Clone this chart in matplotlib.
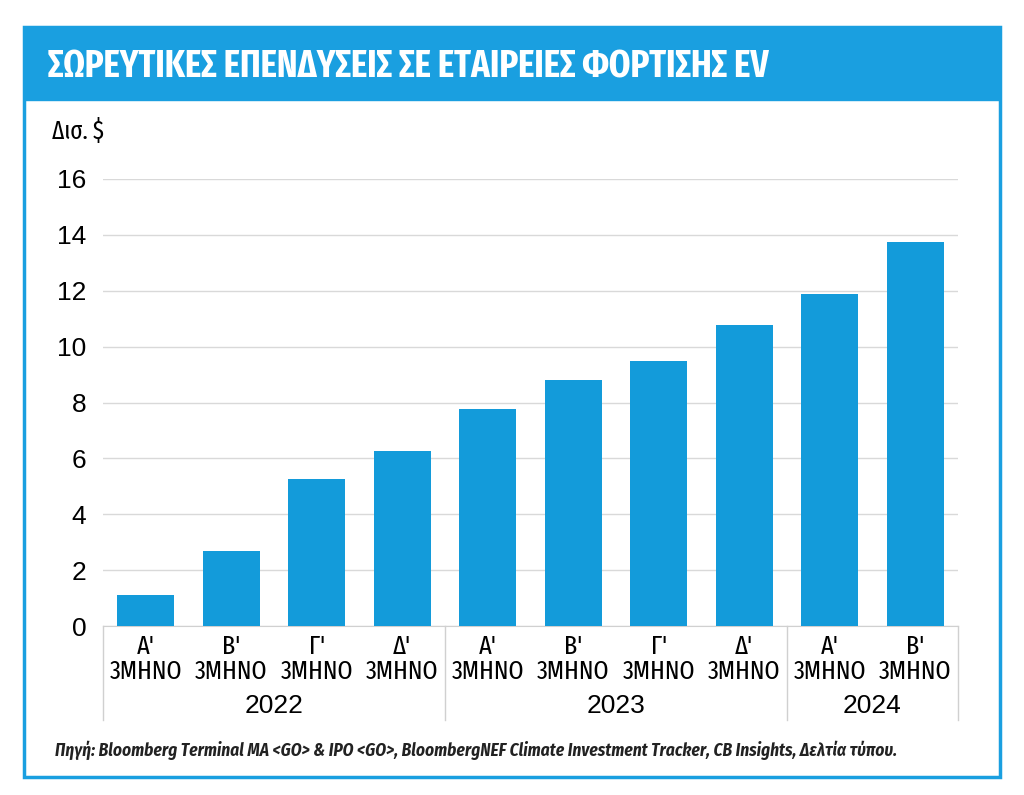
import matplotlib
matplotlib.use("Agg")
import matplotlib.pyplot as plt
import matplotlib.patches as patches
import matplotlib.transforms as mtransforms
import numpy as np

# data
quarters = ["Α'", "Β'", "Γ'", "Δ'", "Α'", "Β'", "Γ'", "Δ'", "Α'", "Β'"]
values = [1.12, 2.68, 5.26, 6.28, 7.76, 8.80, 9.50, 10.78, 11.88, 13.74]
years = ["2022", "2023", "2024"]
year_counts = [4, 4, 2]

title = "ΣΩΡΕΥΤΙΚΕΣ ΕΠΕΝΔΥΣΕΙΣ ΣΕ ΕΤΑΙΡΕΙΕΣ ΦΟΡΤΙΣΗΣ EV"
unit = "Δισ. $"
source = ("Πηγή: Bloomberg Terminal MA <GO> & IPO <GO>, BloombergNEF Climate "
          "Investment Tracker, CB Insights, Δελτία τύπου.")

blue = "#1a9fe0"
bar_blue = "#139bda"
narrow = ["Fira Sans Condensed", "Open Sans Condensed", "DejaVu Sans"]
xnarrow = ["Fira Sans Extra Condensed", "Fira Sans Condensed", "DejaVu Sans"]
plain = ["Liberation Sans", "DejaVu Sans"]

W, H = 1024, 795
fig = plt.figure(figsize=(W / 100, H / 100), dpi=100)

# outer frame and title band
fig.patches.append(patches.Rectangle((24 / W, 1 - 777 / H), 976 / W, 750 / H,
                                     transform=fig.transFigure, fill=False,
                                     edgecolor=blue, linewidth=2.5))
fig.patches.append(patches.Rectangle((24 / W, 1 - 100 / H), 976 / W, 73 / H,
                                     transform=fig.transFigure, color=blue))
fig.text(48 / W, 1 - 67 / H, title, color="white", fontsize=27, fontweight="bold",
         family=xnarrow, va="center", ha="left")
fig.text(52 / W, 1 - 131 / H, unit, fontsize=18, family=xnarrow, va="center")
fig.text(55 / W, 1 - 750 / H, source, fontsize=12.5, fontweight="bold",
         fontstyle="italic", family=narrow, va="center", color="#222222")

ax = fig.add_axes([103 / W, 1 - 626 / H, 855 / W, 447 / H])
x = np.arange(len(values))
ax.bar(x, values, width=0.67, color=bar_blue, zorder=3)
ax.set_xlim(-0.5, len(values) - 0.5)
ax.set_ylim(0, 16)
ax.set_yticks(np.arange(0, 17, 2))
ax.yaxis.grid(True, color="#d9d9d9", linewidth=1)
for s in ["top", "right", "left"]:
    ax.spines[s].set_visible(False)
ax.spines["bottom"].set_color("#d0d0d0")
ax.tick_params(axis="y", length=0, pad=12, labelsize=19)
for lbl in ax.get_yticklabels():
    lbl.set_family(plain)
ax.set_xticks(x)
ax.set_xticklabels([q + "\n3ΜΗΝΟ" for q in quarters], family=xnarrow,
                   fontsize=19, linespacing=1.0)
ax.tick_params(axis="x", length=0, pad=6)

# year groups with separators
trans = mtransforms.blended_transform_factory(ax.transData, ax.transAxes)
start = 0
edges = [-0.5]
for yr, n in zip(years, year_counts):
    mid = start + (n - 1) / 2
    ax.text(mid, -0.178, yr, transform=trans, ha="center", va="center",
            fontsize=19, family=plain)
    start += n
    edges.append(start - 0.5)
for e in edges:
    ax.plot([e, e], [0, -0.21], transform=trans, color="#d0d0d0",
            linewidth=1, clip_on=False)

fig.savefig("out.png", dpi=100)
